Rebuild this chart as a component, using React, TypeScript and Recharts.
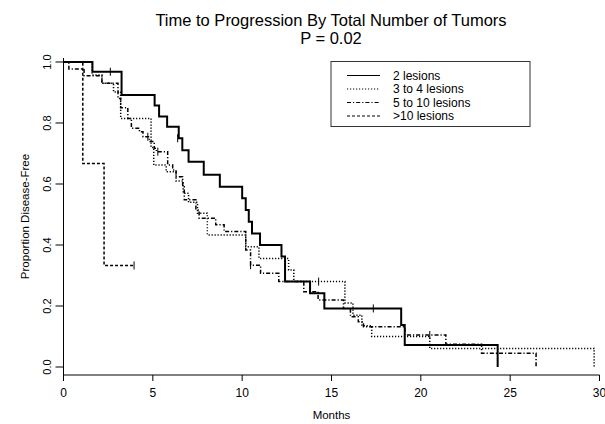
import React from 'react';
import { ComposedChart, Line, Scatter, XAxis, YAxis } from 'recharts';

// ---- data ----
const xTicks = [0, 5, 10, 15, 20, 25, 30];
const yTicks = [0, 0.2, 0.4, 0.6, 0.8, 1.0];

const seriesNames = ['2 lesions', '3 to 4 lesions', '5 to 10 lesions', '>10 lesions'];

const twoT = [0, 1.62, 3.25, 5.1, 5.35, 5.8, 6.45, 6.65, 7.0, 7.85, 8.75, 10.0, 10.2, 10.37, 10.55, 11.0, 12.2, 12.4, 13.8, 14.6, 18.9, 19.1, 24.3];
const twoS = [1, 0.968, 0.892, 0.857, 0.821, 0.788, 0.75, 0.711, 0.673, 0.63, 0.591, 0.553, 0.515, 0.476, 0.438, 0.4, 0.362, 0.28, 0.242, 0.192, 0.138, 0.072, 0];

const threeT = [0, 1.6, 2.15, 2.8, 3.2, 4.9, 5.05, 5.75, 6.3, 6.7, 7.0, 7.5, 8.05, 10.2, 10.94, 12.6, 12.89, 15.75, 16.2, 16.7, 17.25, 20.5, 29.7];
const threeS = [1, 0.957, 0.93, 0.902, 0.815, 0.72, 0.662, 0.64, 0.61, 0.57, 0.54, 0.504, 0.433, 0.394, 0.356, 0.318, 0.28, 0.21, 0.17, 0.135, 0.1, 0.061, 0];

const fiveT = [0, 0.3, 1.15, 2.15, 3.05, 3.2, 3.6, 3.8, 4.25, 4.45, 4.8, 5.08, 5.2, 5.83, 6.11, 6.3, 6.67, 6.76, 7.41, 7.59, 8.52, 8.99, 10.2, 10.47, 11.03, 12.05, 13.45, 14.25, 15.67, 16.06, 16.5, 16.79, 19.1, 21.4, 23.4, 26.45];
const fiveS = [1, 0.977, 0.955, 0.93, 0.88, 0.85, 0.815, 0.783, 0.771, 0.755, 0.739, 0.717, 0.706, 0.662, 0.646, 0.624, 0.591, 0.548, 0.515, 0.488, 0.466, 0.444, 0.384, 0.334, 0.307, 0.28, 0.247, 0.22, 0.192, 0.165, 0.148, 0.132, 0.105, 0.075, 0.045, 0];

const tenT = [0, 1.08, 2.27, 3.95];
const tenS = [1, 0.667, 0.333, 0.333];

// censoring marks
const cTwoT = [2.62, 6.39, 17.34];
const cTwoS = [0.968, 0.75, 0.192];
const cThreeT = [14.28];
const cThreeS = [0.28];
const cFiveT = [4.72, 5.28, 10.47, 20.5];
const cFiveS = [0.755, 0.706, 0.334, 0.105];
const cTenT = [3.95];
const cTenS = [0.333];

const zip = (ts: number[], ss: number[]) => ts.map((t, i) => ({ t, s: ss[i] }));

const twoData = zip(twoT, twoS);
const threeData = zip(threeT, threeS);
const fiveData = zip(fiveT, fiveS);
const tenData = zip(tenT, tenS);

const FONT = '"Liberation Sans", Arial, Helvetica, sans-serif';

const styles = [
  { w: 2, dash: undefined as string | undefined },
  { w: 1.5, dash: '1.2 1.8' },
  { w: 1.5, dash: '4 2 1.2 2' },
  { w: 1.5, dash: '3 2' },
];

const YTick = (props: any) => {
  const { y, payload } = props;
  const x = 51;
  return (
    <text
      x={x}
      y={y}
      transform={`rotate(-90, ${x}, ${y})`}
      textAnchor="middle"
      fontSize={11}
      fontFamily={FONT}
      fill="#000"
    >
      {Number(payload.value).toFixed(1)}
    </text>
  );
};

const CensorMark = (props: any) => {
  const { cx, cy } = props;
  if (cx == null || cy == null) return <g />;
  return <line x1={cx} x2={cx} y1={cy - 4} y2={cy + 4} stroke="#000" strokeWidth={1} />;
};

export default function App() {
  const legendRows = [75.5, 89, 102.5, 116];
  return (
    <div style={{ position: 'absolute', left: 0, top: 0, width: 605, height: 424, background: '#fff' }}>
      <ComposedChart width={605} height={424} margin={{ top: 58, right: 5.5, bottom: 0, left: 0 }}>
        <XAxis
          dataKey="t"
          type="number"
          domain={[0, 30]}
          ticks={xTicks}
          interval={0}
          allowDataOverflow
          height={49}
          tickSize={6}
          tickMargin={7}
          axisLine={{ stroke: '#000' }}
          tickLine={{ stroke: '#000' }}
          tick={{ fontSize: 12, fill: '#000', fontFamily: FONT }}
          label={{ value: 'Months', position: 'insideBottom', offset: 5, fontSize: 11.5, fill: '#000', fontFamily: FONT }}
        />
        <YAxis
          type="number"
          domain={[-0.0262, 1.0131]}
          ticks={yTicks}
          interval={0}
          allowDataOverflow
          width={63.5}
          tickSize={8}
          axisLine={{ stroke: '#000' }}
          tickLine={{ stroke: '#000' }}
          tick={<YTick />}
        />
        <Line data={twoData} dataKey="s" type="stepAfter" stroke="#000" strokeWidth={styles[0].w} dot={false} isAnimationActive={false} />
        <Line data={threeData} dataKey="s" type="stepAfter" stroke="#000" strokeWidth={styles[1].w} strokeDasharray={styles[1].dash} dot={false} isAnimationActive={false} />
        <Line data={fiveData} dataKey="s" type="stepAfter" stroke="#000" strokeWidth={styles[2].w} strokeDasharray={styles[2].dash} dot={false} isAnimationActive={false} />
        <Line data={tenData} dataKey="s" type="stepAfter" stroke="#000" strokeWidth={styles[3].w} strokeDasharray={styles[3].dash} dot={false} isAnimationActive={false} />
        <Scatter data={zip(cTwoT, cTwoS)} dataKey="s" shape={<CensorMark />} isAnimationActive={false} />
        <Scatter data={zip(cThreeT, cThreeS)} dataKey="s" shape={<CensorMark />} isAnimationActive={false} />
        <Scatter data={zip(cFiveT, cFiveS)} dataKey="s" shape={<CensorMark />} isAnimationActive={false} />
        <Scatter data={zip(cTenT, cTenS)} dataKey="s" shape={<CensorMark />} isAnimationActive={false} />
      </ComposedChart>
      <svg width={605} height={424} style={{ position: 'absolute', left: 0, top: 0, pointerEvents: 'none' }}>
        <text x={331} y={26} textAnchor="middle" fontSize={16.5} fontFamily={FONT} fill="#000">
          Time to Progression By Total Number of Tumors
        </text>
        <text x={331} y={44} textAnchor="middle" fontSize={16.5} fontFamily={FONT} fill="#000">
          P = 0.02
        </text>
        <text
          x={29}
          y={216.5}
          transform="rotate(-90, 29, 216.5)"
          textAnchor="middle"
          fontSize={11.5}
          fontFamily={FONT}
          fill="#000"
        >
          Proportion Disease-Free
        </text>
        <rect x={331} y={61.5} width={199} height={65} fill="#fff" stroke="#333" strokeWidth={1} />
        {seriesNames.map((name, i) => (
          <g key={name}>
            <line
              x1={347}
              x2={380}
              y1={legendRows[i]}
              y2={legendRows[i]}
              stroke="#000"
              strokeWidth={1}
              strokeDasharray={styles[i].dash}
            />
            <text x={393} y={legendRows[i] + 4} fontSize={12} fontFamily={FONT} fill="#000">
              {name}
            </text>
          </g>
        ))}
      </svg>
    </div>
  );
}
